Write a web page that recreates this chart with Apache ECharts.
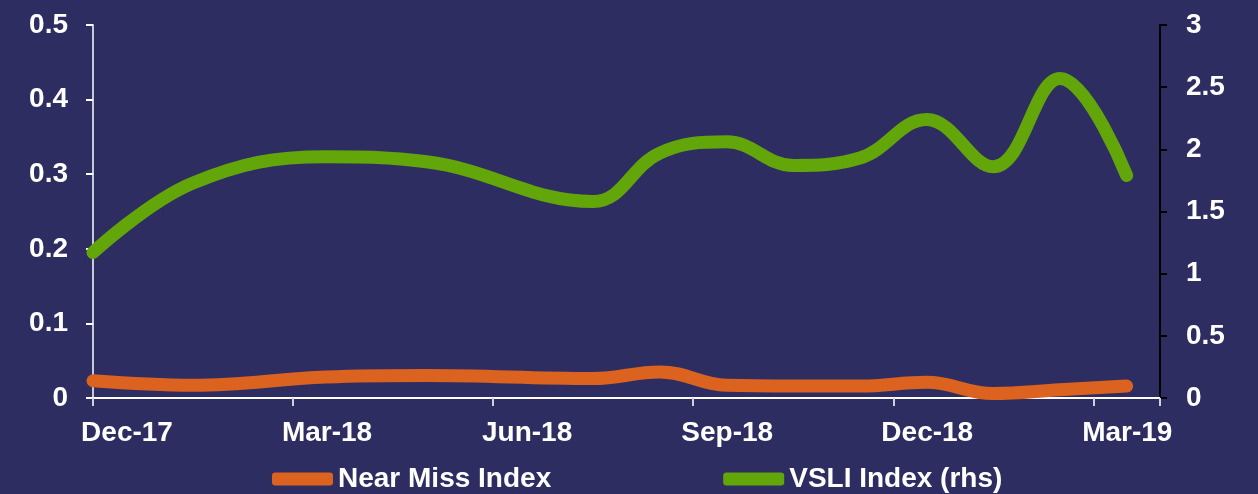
<!DOCTYPE html>
<html>
<head>
<meta charset="utf-8">
<script src="https://cdn.jsdelivr.net/npm/echarts@6/dist/echarts.min.js"></script>
<style>
  html, body { margin: 0; padding: 0; background: #2e2d62; }
  #chart { width: 1258px; height: 494px; }
</style>
</head>
<body>
<div id="chart"></div>
<script>
// months counted from Dec-17 (0)
var months = [0, 1.5, 3.5, 5, 7.5, 8.5, 9.5, 10.5, 11.5, 12.5, 13.5, 14.5, 15.5];
var nearMiss = [0.023, 0.017, 0.028, 0.030, 0.026, 0.035, 0.017, 0.016, 0.016, 0.021, 0.006, 0.011, 0.016];
var vsli = [1.17, 1.73, 1.94, 1.90, 1.58, 1.97, 2.06, 1.87, 1.93, 2.24, 1.86, 2.57, 1.79];
var xLabels = ['Dec-17', 'Mar-18', 'Jun-18', 'Sep-18', 'Dec-18', 'Mar-19'];
var seriesNames = ['Near Miss Index', 'VSLI Index (rhs)'];

var font = 'Liberation Sans, Arial, sans-serif';
var labelStyle = { color: '#ffffff', fontWeight: 'bold', fontSize: 28, fontFamily: font };

function pairs(ys) {
    var out = [];
    for (var i = 0; i < months.length; i++) {
        out.push([months[i], ys[i]]);
    }
    return out;
}

var myChart = echarts.init(document.getElementById('chart'));
myChart.setOption({
    backgroundColor: '#2e2d62',
    animation: false,
    grid: { left: 93, right: 98, top: 25, bottom: 96 },
    legend: {
        data: seriesNames,
        top: 460,
        left: 267,
        icon: 'roundRect',
        itemWidth: 61,
        itemHeight: 13,
        itemGap: 172,
        textStyle: labelStyle
    },
    xAxis: {
        type: 'value',
        min: 0,
        max: 16,
        interval: 3,
        splitLine: { show: false },
        axisLine: { lineStyle: { color: '#ffffff', width: 2 } },
        axisTick: { show: true, length: 8, lineStyle: { color: '#d0d0e0', width: 2 } },
        axisLabel: Object.assign({
            margin: 21,
            // labels sit half a month to the right of their tick
            padding: [0, 0, 0, 68],
            formatter: function (v) {
                return v % 3 === 0 && xLabels[v / 3] ? xLabels[v / 3] : '';
            }
        }, labelStyle)
    },
    yAxis: [
        {
            type: 'value',
            min: 0,
            max: 0.5,
            interval: 0.1,
            splitLine: { show: false },
            axisLine: { show: true, lineStyle: { color: '#c8c8d8', width: 2 } },
            axisTick: { show: true, length: 7, lineStyle: { color: '#ffffff', width: 2 } },
            axisLabel: Object.assign({ margin: 25 }, labelStyle)
        },
        {
            type: 'value',
            min: 0,
            max: 3,
            interval: 0.5,
            position: 'right',
            splitLine: { show: false },
            axisLine: { show: true, lineStyle: { color: '#000000', width: 2 } },
            axisTick: { show: true, length: 7, lineStyle: { color: '#000000', width: 2 } },
            axisLabel: Object.assign({ margin: 26 }, labelStyle)
        }
    ],
    series: [
        {
            name: seriesNames[0],
            type: 'line',
            yAxisIndex: 0,
            smooth: 0.4,
            symbol: 'none',
            color: '#dc621f',
            lineStyle: { width: 13, color: '#dc621f', cap: 'round', join: 'round' },
            data: pairs(nearMiss)
        },
        {
            name: seriesNames[1],
            type: 'line',
            yAxisIndex: 1,
            smooth: 0.4,
            symbol: 'none',
            color: '#62a60a',
            lineStyle: { width: 13, color: '#62a60a', cap: 'round', join: 'round' },
            data: pairs(vsli)
        }
    ]
});
</script>
</body>
</html>
